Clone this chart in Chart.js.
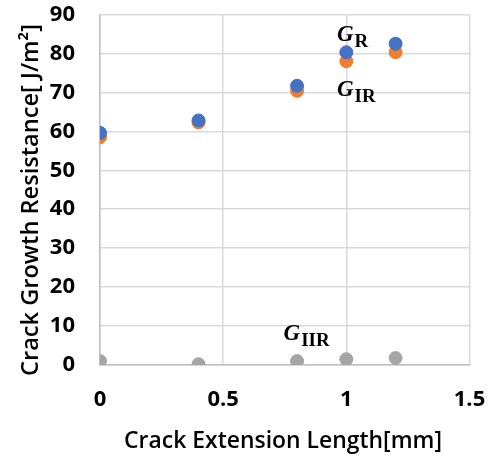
<!DOCTYPE html>
<html><head><meta charset="utf-8">
<script src="https://cdn.jsdelivr.net/npm/chart.js@4"></script>
<style>html,body{margin:0;padding:0;background:#fff}#wrap{width:488px;height:457px;position:relative}</style>
</head><body><div id="wrap"><canvas id="c" width="488" height="457"></canvas></div>
<script>
const crackLength = [0, 0.4, 0.8, 1.0, 1.2];
const GR   = [59.6, 62.8, 71.7, 80.3, 82.5];
const GIR  = [58.5, 62.3, 70.4, 78.0, 80.3];
const GIIR = [1.0, 0.2, 1.0, 1.5, 1.8];
const xTicks = [0, 0.5, 1, 1.5];
const xTitle = 'Crack Extension Length[mm]';
const yTitle = 'Crack Growth Resistance[ J/m\u00B2]';

const pts = ys => crackLength.map((x, i) => ({x, y: ys[i]}));

function fitFont(ctx, text, target, weight, family) {
  ctx.font = weight + ' 20px ' + family;
  const w = ctx.measureText(text).width;
  const size = Math.min(24, Math.max(18, 20 * target / w));
  return weight + ' ' + size.toFixed(2) + 'px ' + family;
}

const labelPlugin = {
  id: 'glabels',
  afterDatasetsDraw(chart, args, opts) {
    const {ctx, scales: {x, y}} = chart;
    ctx.save();
    ctx.fillStyle = '#000';
    ctx.textBaseline = 'alphabetic';
    ctx.textAlign = 'left';
    opts.items.forEach(it => {
      const px = x.getPixelForValue(it.x), py = y.getPixelForValue(it.y);
      ctx.font = 'italic bold 23px "Liberation Serif"';
      ctx.fillText('G', px, py);
      const w = ctx.measureText('G').width;
      ctx.font = 'bold 19px "Liberation Serif"';
      ctx.fillText(it.sub, px + w + 1, py + 6);
    });
    ctx.restore();
  },
  afterDraw(chart, args, opts) {
    const {ctx} = chart;
    ctx.save();
    ctx.fillStyle = '#000';
    ctx.textBaseline = 'alphabetic';
    ctx.textAlign = 'center';
    ctx.font = fitFont(ctx, opts.xTitle, 318, '600', '"Open Sans"');
    ctx.fillText(opts.xTitle, 283, 448);
    ctx.translate(38, 200);
    ctx.rotate(-Math.PI / 2);
    ctx.font = fitFont(ctx, opts.yTitle, 352, '600', '"Open Sans"');
    ctx.fillText(opts.yTitle, 0, 0);
    ctx.restore();
  }
};

new Chart(document.getElementById('c'), {
  type: 'scatter',
  data: {
    datasets: [
      {label: 'GR', data: pts(GR), backgroundColor: '#4472C4', borderColor: '#4472C4', pointRadius: 6.5, pointHoverRadius: 6.5},
      {label: 'GIR', data: pts(GIR), backgroundColor: '#ED7D31', borderColor: '#ED7D31', pointRadius: 6.5, pointHoverRadius: 6.5},
      {label: 'GIIR', data: pts(GIIR), backgroundColor: '#A5A5A5', borderColor: '#A5A5A5', pointRadius: 6.5, pointHoverRadius: 6.5}
    ]
  },
  plugins: [labelPlugin],
  options: {
    responsive: false,
    animation: false,
    events: [],
    layout: {padding: {top: 14.5, right: 18.5, left: 0, bottom: 0}},
    plugins: {
      legend: {display: false},
      tooltip: {enabled: false},
      glabels: {
        xTitle: xTitle,
        yTitle: yTitle,
        items: [
          {x: 0.962, y: 83.2, sub: 'R'},
          {x: 0.962, y: 69.1, sub: 'IR'},
          {x: 0.745, y: 6.3, sub: 'IIR'}
        ]
      }
    },
    scales: {
      x: {
        type: 'linear', min: 0, max: 1.5,
        afterBuildTicks(s) { s.ticks = xTicks.map(v => ({value: v})); },
        ticks: {color: '#000', padding: 22, font: {family: '"Open Sans"', size: 22, weight: 'bold'}, callback: v => String(v)},
        grid: {color: '#D9D9D9', lineWidth: 1.5, drawTicks: false},
        border: {color: '#BFBFBF', width: 1.5},
        title: {display: false, text: xTitle},
        afterFit(s) { s.height = 92; s.paddingLeft = 0; s.paddingRight = 0; }
      },
      y: {
        min: 0, max: 90,
        ticks: {stepSize: 10, color: '#000', padding: 25, font: {family: '"Open Sans"', size: 22, weight: 'bold'}},
        grid: {color: '#D9D9D9', lineWidth: 1.5, drawTicks: false},
        border: {color: '#BFBFBF', width: 1.5},
        title: {display: false, text: yTitle},
        afterFit(s) { s.width = 100; s.paddingTop = 0; s.paddingBottom = 0; }
      }
    }
  }
});
</script>
</body></html>
